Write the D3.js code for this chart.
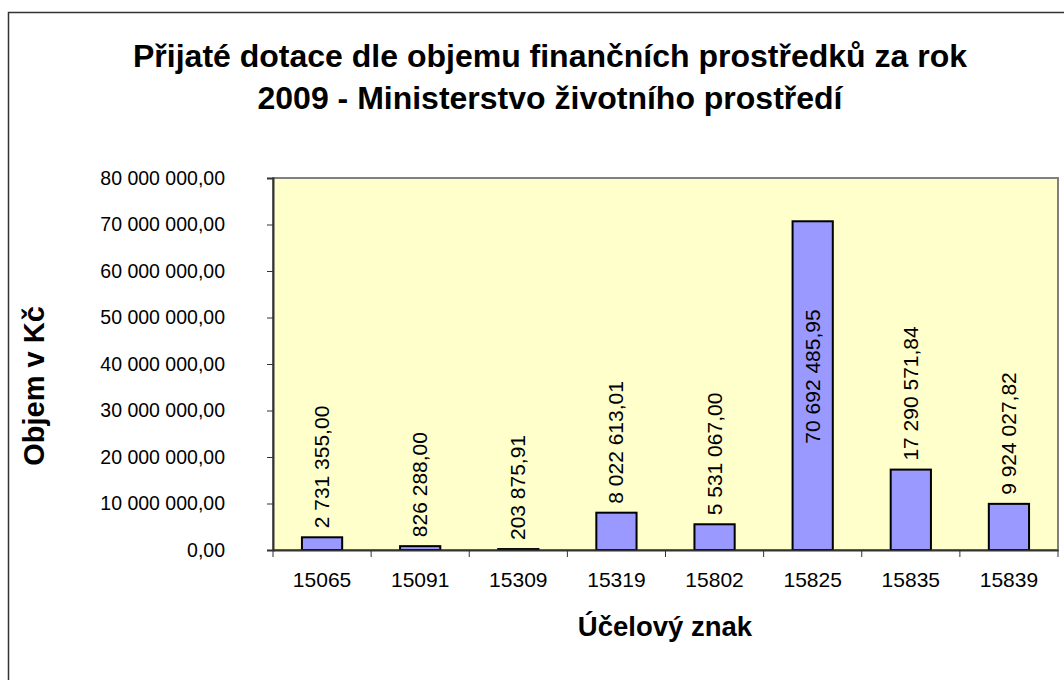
<!DOCTYPE html>
<html><head><meta charset="utf-8">
<script src="https://cdn.jsdelivr.net/npm/d3@7"></script>
<style>body{margin:0;background:#fff}svg{display:block}text{font-family:Arial,"Liberation Sans",sans-serif}</style>
</head><body><svg id="c" width="1064" height="680"></svg>
<script>
const categories = ["15065","15091","15309","15319","15802","15825","15835","15839"];
const values = [2731355.00, 826288.00, 203875.91, 8022613.01, 5531067.00, 70692485.95, 17290571.84, 9924027.82];
const yTicks = [0,10000000,20000000,30000000,40000000,50000000,60000000,70000000,80000000];
const titleLines = ["Přijaté dotace dle objemu finančních prostředků za rok","2009 - Ministerstvo životního prostředí"];
const xTitle = "Účelový znak";
const yTitle = "Objem v Kč";

const svg = d3.select("#c");
const m = {l:273, r:1058, t:178, b:550};
const fmt = v => {
  const [i,d] = v.toFixed(2).split(".");
  return i.replace(/\B(?=(\d{3})+(?!\d))/g, " ") + "," + d;
};
svg.append("rect").attr("x",8.5).attr("y",12.5).attr("width",1070).attr("height",700)
  .attr("fill","#fff").attr("stroke","#333").attr("stroke-width",1.5);

const x = d3.scaleBand().domain(categories).range([m.l,m.r]).paddingInner(0.59).paddingOuter(0.295);
const xb = d3.scaleBand().domain(categories).range([m.l,m.r]);
const y = d3.scaleLinear().domain([0,80000000]).range([m.b,m.t]);

svg.append("rect").attr("x",m.l).attr("y",m.t).attr("width",m.r-m.l).attr("height",m.b-m.t)
  .attr("fill","#FFFFCC").attr("stroke","#808080").attr("stroke-width",2);

svg.append("g").selectAll("rect").data(values).join("rect")
  .attr("x",(d,i)=>x(categories[i])).attr("width",x.bandwidth())
  .attr("y",d=>y(d)).attr("height",d=>m.b-y(d))
  .attr("fill","#9999FF").attr("stroke","#000").attr("stroke-width",2);

// y axis
const ya = svg.append("g").attr("transform",`translate(${m.l},0)`)
  .call(d3.axisLeft(y).tickValues(yTicks).tickFormat(fmt).tickSize(6).tickPadding(42));
ya.select(".domain").attr("stroke","#333").attr("stroke-width",2);
ya.selectAll(".tick line").attr("stroke","#333");
ya.selectAll("text").attr("font-size",19.5).attr("fill","#000").attr("font-family","Arial, 'Liberation Sans', sans-serif");

// x axis
const xa = svg.append("g").attr("transform",`translate(0,${m.b})`)
  .call(d3.axisBottom(xb).tickSize(0).tickPadding(22));
xa.select(".domain").attr("stroke","#333").attr("stroke-width",2);
xa.selectAll("text").attr("font-size",21).attr("fill","#000").attr("font-family","Arial, 'Liberation Sans', sans-serif");
const bounds = categories.map((c,i)=>xb(c)).concat([m.r]);
svg.append("g").selectAll("line").data(bounds).join("line")
  .attr("x1",d=>d).attr("x2",d=>d).attr("y1",m.b).attr("y2",m.b+7).attr("stroke","#333");

// data labels
svg.append("g").selectAll("text").data(values).join("text")
  .attr("transform",(d,i)=>{
    const cx = x(categories[i])+x.bandwidth()/2;
    let yy = y(d)-9;
    if (yy-130 < m.t) yy = (y(d)+m.b)/2 + 58;
    return `translate(${cx+7},${yy}) rotate(-90)`;
  })
  .attr("font-size",21).attr("fill","#000").text(fmt);

// titles
svg.append("text").attr("x",550).attr("y",67).attr("text-anchor","middle")
  .attr("font-size",32).attr("font-weight","bold").text(titleLines[0]);
svg.append("text").attr("x",550).attr("y",109).attr("text-anchor","middle")
  .attr("font-size",32).attr("font-weight","bold").text(titleLines[1]);
svg.append("text").attr("x",665).attr("y",636).attr("text-anchor","middle")
  .attr("font-size",27.5).attr("font-weight","bold").text(xTitle);
svg.append("text").attr("transform","translate(44,386) rotate(-90)").attr("text-anchor","middle")
  .attr("font-size",29).attr("font-weight","bold").text(yTitle);
</script></body></html>
